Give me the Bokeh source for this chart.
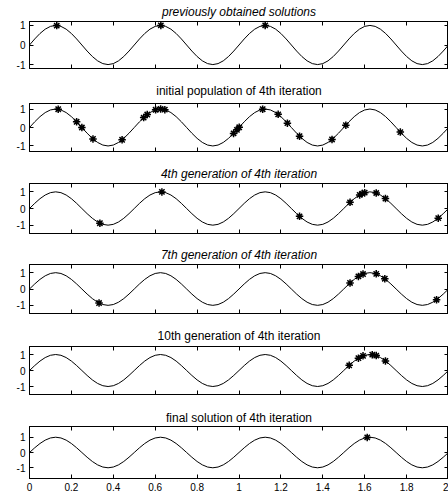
from bokeh.plotting import figure
from bokeh.layouts import column
from bokeh.models import LinearAxis, FixedTicker, Range1d
from bokeh.embed import file_html
from bokeh.resources import INLINE

# objective curve (x, y)
curve_x = [0.0, 0.025, 0.05, 0.075, 0.1, 0.125, 0.15, 0.175, 0.2, 0.225,
           0.25, 0.275, 0.3, 0.325, 0.35, 0.375, 0.4, 0.425, 0.45, 0.475,
           0.5, 0.525, 0.55, 0.575, 0.6, 0.625, 0.65, 0.675, 0.7, 0.725,
           0.75, 0.775, 0.8, 0.825, 0.85, 0.875, 0.9, 0.925, 0.95, 0.975,
           1.0, 1.025, 1.05, 1.075, 1.1, 1.125, 1.15, 1.175, 1.2, 1.225,
           1.25, 1.275, 1.3, 1.325, 1.35, 1.375, 1.4, 1.425, 1.45, 1.475,
           1.5, 1.525, 1.55, 1.575, 1.6, 1.625, 1.65, 1.675, 1.7, 1.725,
           1.75, 1.775, 1.8, 1.825, 1.85, 1.875, 1.9, 1.925, 1.95, 1.975, 2.0]
curve_y = [0.0, 0.309, 0.588, 0.809, 0.951, 1.0, 0.951, 0.809, 0.588, 0.309,
           0.0, -0.309, -0.588, -0.809, -0.951, -1.0, -0.951, -0.809, -0.588, -0.309,
           0.0, 0.309, 0.588, 0.809, 0.951, 1.0, 0.951, 0.809, 0.588, 0.309,
           0.0, -0.309, -0.588, -0.809, -0.951, -1.0, -0.951, -0.809, -0.588, -0.309,
           0.0, 0.309, 0.588, 0.809, 0.951, 1.0, 0.951, 0.809, 0.588, 0.309,
           0.0, -0.309, -0.588, -0.809, -0.951, -1.0, -0.951, -0.809, -0.588, -0.309,
           0.0, 0.309, 0.588, 0.809, 0.951, 1.0, 0.951, 0.809, 0.588, 0.309,
           0.0, -0.309, -0.588, -0.809, -0.951, -1.0, -0.951, -0.809, -0.588, -0.309, 0.0]

x_ticks = [0, 0.2, 0.4, 0.6, 0.8, 1, 1.2, 1.4, 1.6, 1.8, 2]
x_tick_labels = ["0", "0.2", "0.4", "0.6", "0.8", "1", "1.2", "1.4", "1.6", "1.8", "2"]
y_ticks = [-1, 0, 1]
y_tick_labels = ["-1", "0", "1"]

titles = [
    "previously obtained solutions",
    "initial population of 4th iteration",
    "4th generation of 4th iteration",
    "7th generation of 4th iteration",
    "10th generation of 4th iteration",
    "final solution of 4th iteration",
]

prev_x = [0.13, 0.627, 1.125]
prev_y = [0.99, 1.0, 1.0]

init_x = [0.137, 0.225, 0.250, 0.303, 0.442, 0.545, 0.562, 0.602, 0.626, 0.646,
          0.974, 0.990, 1.001, 1.113, 1.187, 1.231, 1.289, 1.444, 1.510, 1.770]
init_y = [0.989, 0.309, 0.0, -0.617, -0.666, 0.536, 0.702, 0.959, 1.0, 0.965,
          -0.321, -0.125, 0.013, 0.989, 0.712, 0.236, -0.471, -0.647, 0.125, -0.249]

gen4_x = [0.336, 0.632, 1.289, 1.530, 1.576, 1.588, 1.600, 1.655, 1.699, 1.951]
gen4_y = [-0.882, 0.996, -0.471, 0.368, 0.816, 0.894, 0.951, 0.930, 0.598, -0.578]

gen7_x = [0.332, 1.530, 1.570, 1.592, 1.655, 1.696, 1.943]
gen7_y = [-0.858, 0.368, 0.771, 0.915, 0.930, 0.628, -0.657]

gen10_x = [1.526, 1.570, 1.592, 1.636, 1.655, 1.699]
gen10_y = [0.321, 0.771, 0.915, 0.990, 0.930, 0.598]

final_x = [1.612]
final_y = [0.987]

stars = [(prev_x, prev_y), (init_x, init_y), (gen4_x, gen4_y),
         (gen7_x, gen7_y), (gen10_x, gen10_y), (final_x, final_y)]

# layout / style
y_half = [1.2, 1.3, 1.5, 1.5, 1.5, 1.7]
tops = [20, 27, 25, 24, 25, 24]
frames = [48, 49, 50, 49, 48, 52]
bottoms = [7, 7, 7, 8, 8, 18]
title_standoffs = [5, 12, 6, 6, 8, 4]
title_styles = ["italic", "normal", "italic", "italic", "normal", "normal"]
FONT = "Liberation Sans"


def add_axis(p, loc, ticks, labels, show):
    ax = LinearAxis(
        ticker=FixedTicker(ticks=ticks),
        major_label_overrides={t: (l if show else "") for t, l in zip(ticks, labels)},
        major_tick_in=4, major_tick_out=0,
        minor_tick_line_color=None,
        axis_line_color="black", major_tick_line_color="black",
        major_label_text_font=FONT,
        major_label_text_font_size="10px" if show else "1px",
        major_label_text_color="black",
        major_label_standoff=4 if show else 0,
    )
    p.add_layout(ax, loc)


figs = []
for i in range(6):
    last = i == 5
    h = tops[i] + frames[i] + bottoms[i]
    p = figure(width=448, height=h, x_range=Range1d(0, 2.0),
               y_range=Range1d(-y_half[i], y_half[i]),
               output_backend="svg", toolbar_location=None,
               x_axis_type=None, y_axis_type=None,
               min_border_left=29, min_border_right=0,
               min_border_top=tops[i], min_border_bottom=bottoms[i])
    p.title.text = titles[i]
    p.title.align = "center"
    p.title.text_font = FONT
    p.title.text_font_size = "12px"
    p.title.text_font_style = title_styles[i]
    p.title.text_color = "black"
    p.title.standoff = title_standoffs[i]
    p.outline_line_color = "black"
    p.background_fill_color = "white"
    p.border_fill_color = "white"
    add_axis(p, "below", x_ticks, x_tick_labels, last)
    add_axis(p, "above", x_ticks, x_tick_labels, False)
    add_axis(p, "left", y_ticks, y_tick_labels, True)
    add_axis(p, "right", y_ticks, y_tick_labels, False)
    p.line(curve_x, curve_y, line_color="black", line_width=1)
    sx, sy = stars[i]
    p.scatter(sx, sy, marker="asterisk", size=7.5, line_color="black", line_width=1.5)
    figs.append(p)

layout = column(*figs, spacing=0)
open("out.html", "w").write(file_html(layout, INLINE))
